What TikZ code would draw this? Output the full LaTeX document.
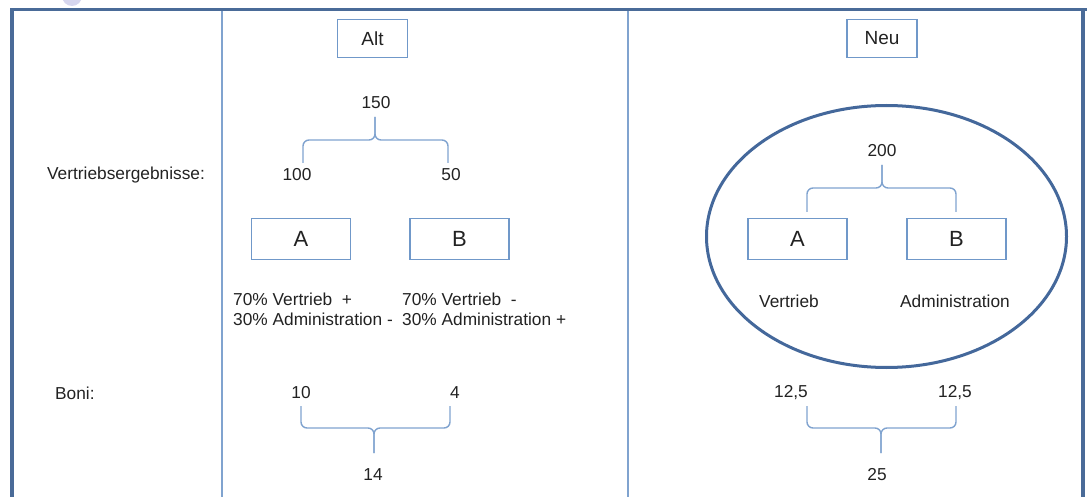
\documentclass[tikz,border=0pt]{standalone}
\usepackage{fontspec}
\setmainfont{Liberation Sans}
\usetikzlibrary{shapes.geometric}
\definecolor{frameblue}{HTML}{4A6B98}
\definecolor{ringblue}{HTML}{44689B}
\definecolor{lineblue}{HTML}{80A3CF}
\definecolor{boxblue}{HTML}{7098C9}
\definecolor{ink}{HTML}{222222}
\definecolor{haze}{HTML}{D6D6EE}
\tikzset{
  frame/.style={draw=frameblue,line width=3.2pt},
  divider/.style={draw=lineblue,line width=2.2pt},
  labelbox/.style={draw=boxblue,line width=1.6pt,minimum width=70pt,minimum height=38pt,inner sep=0pt,text=ink,font=\fontsize{19}{22}\selectfont},
  unitbox/.style={draw=boxblue,line width=1.6pt,minimum width=99pt,minimum height=41pt,inner sep=0pt,text=ink,font=\fontsize{22}{26}\selectfont},
  txt/.style={text=ink,inner sep=0pt,font=\fontsize{17.3}{19.5}\selectfont},
  brace/.style={draw=lineblue,line width=1.4pt,rounded corners=6pt},
  ring/.style={draw=ringblue,line width=3pt,ellipse,minimum width=360pt,minimum height=262pt}
}
\begin{document}
\begin{tikzpicture}[x=1pt,y=-1pt]
\useasboundingbox (0,0) rectangle (1087,497);
% faint blob at the top edge
\fill[haze] (72,-4) circle (10);
% table frame and column dividers
\draw[frame] (10,9.5) -- (1087,9.5);
\draw[frame] (12,9) -- (12,497);
\draw[frame] (1083,9) -- (1083,497);
\draw[divider] (222,11) -- (222,497);
\draw[divider] (628,11) -- (628,497);

% row labels
\node[txt] (lblV) at (126,175) {Vertriebsergebnisse:};
\node[txt,anchor=west] (lblB) at (55,393) {Boni:};

% ---- old scheme ----
\node[labelbox] (alt) at (372.5,38.5) {Alt};
\node[txt] (a150) at (376,103) {150};
\node[txt] (a100) at (297,175) {100};
\node[txt] (a50) at (451,175) {50};
\node[unitbox] (oA) at (301,239) {A};
\node[unitbox] (oB) at (459.5,239) {B};
\node[txt,anchor=west,align=left] (oAt) at (233,309.5) {70\% Vertrieb\ \ +\\30\% Administration -};
\node[txt,anchor=west,align=left] (oBt) at (402,309.5) {70\% Vertrieb\ \ -\\30\% Administration +};
\coordinate (aL) at (303,163);
\coordinate (aR) at (448,163);
\coordinate (aS) at (375,117);
\draw[brace] (aL) |- (aS |- 0,140) -- (aS);
\draw[brace] (aR) |- (aS |- 0,140) -- (aS);

\node[txt] (b10) at (301,393) {10};
\node[txt] (b4) at (455,393) {4};
\node[txt] (b14) at (373,475) {14};
\coordinate (bL) at (301,406);
\coordinate (bR) at (450,406);
\coordinate (bS) at (374,453);
\draw[brace] (bL) |- (bS |- 0,428) -- (bS);
\draw[brace] (bR) |- (bS |- 0,428) -- (bS);

% ---- new scheme ----
\node[labelbox] (neu) at (882,38.5) {Neu};
\node[ring] (pool) at (886.5,236.5) {};
\node[txt] (n200) at (882,151) {200};
\node[unitbox] (nA) at (797.5,239) {A};
\node[unitbox] (nB) at (956.5,239) {B};
\node[txt] (nAt) at (789,301) {Vertrieb};
\node[txt] (nBt) at (955,301) {Administration};
\coordinate (cL) at (807,212);
\coordinate (cR) at (956,212);
\coordinate (cS) at (882,165);
\draw[brace] (cL) |- (cS |- 0,188) -- (cS);
\draw[brace] (cR) |- (cS |- 0,188) -- (cS);

\node[txt] (d1) at (791,393) {12,5};
\node[txt] (d2) at (955,393) {12,5};
\node[txt] (d25) at (877,475) {25};
\coordinate (dL) at (807,406);
\coordinate (dR) at (956,406);
\coordinate (dS) at (881,453);
\draw[brace] (dL) |- (dS |- 0,428) -- (dS);
\draw[brace] (dR) |- (dS |- 0,428) -- (dS);
\end{tikzpicture}
\end{document}
